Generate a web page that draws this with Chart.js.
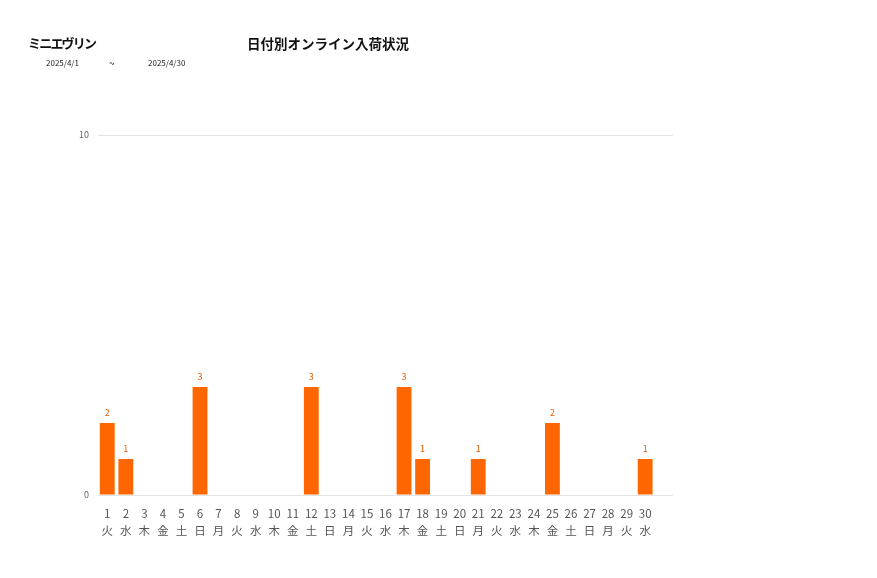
<!DOCTYPE html>
<html lang="ja">
<head>
<meta charset="utf-8">
<script src="https://cdn.jsdelivr.net/npm/chart.js@4"></script>
<style>
  body { margin: 0; background: #fff; font-family: "Noto Sans CJK JP", "Noto Sans", sans-serif; }
  #wrap { position: relative; width: 877px; height: 578px; }
  #chart { position: absolute; left: 0; top: 0; }
  .txt { position: absolute; white-space: nowrap; color: #111; }
  .brand { left: 28px; top: 33px; font-size: 13px; font-weight: bold; letter-spacing: -1.8px; }
  .title { left: 247px; top: 33px; font-size: 13.5px; font-weight: bold; }
  .date { top: 57px; font-size: 8px; color: #222; }
</style>
</head>
<body>
<div id="wrap">
  <canvas id="chart" width="877" height="578"></canvas>
  <div class="txt brand">ミニエヴリン</div>
  <div class="txt title">日付別オンライン入荷状況</div>
  <div class="txt date" style="left:46px">2025/4/1</div>
  <div class="txt date" style="left:109px;font-size:10px;top:55px">~</div>
  <div class="txt date" style="left:148px">2025/4/30</div>
</div>
<script>
const days = ['1','2','3','4','5','6','7','8','9','10','11','12','13','14','15',
              '16','17','18','19','20','21','22','23','24','25','26','27','28','29','30'];
const weekdays = ['火','水','木','金','土','日','月','火','水','木','金','土','日','月','火',
                  '水','木','金','土','日','月','火','水','木','金','土','日','月','火','水'];
const arrivals = [2,1,0,0,0,3,0,0,0,0,0,3,0,0,0,0,3,1,0,0,1,0,0,0,2,0,0,0,0,1];
const yTicks = [0, 10];

// value labels over the bars (skip zeros)
const barLabels = {
    id: 'barLabels',
    afterDatasetsDraw(chart) {
        const ctx = chart.ctx;
        const meta = chart.getDatasetMeta(0);
        ctx.save();
        ctx.font = '9px "Noto Sans CJK JP", sans-serif';
        ctx.fillStyle = '#e8600a';
        ctx.textAlign = 'center';
        ctx.textBaseline = 'bottom';
        meta.data.forEach((bar, i) => {
            if (!arrivals[i]) return;
            ctx.fillText(arrivals[i], bar.x, bar.y - 6);
        });
        ctx.restore();
    }
};

// one blank slot at the end, the grid runs a little past the last day
const labels = days.map((d, i) => [d, weekdays[i]]).concat(['']);

new Chart(document.getElementById('chart'), {
    type: 'bar',
    data: {
        labels: labels,
        datasets: [{
            data: arrivals,
            backgroundColor: '#ff6600',
            borderWidth: 0,
            categoryPercentage: 1,
            barPercentage: 0.8
        }]
    },
    options: {
        responsive: false,
        animation: false,
        layout: { padding: { left: 0, right: 204, top: 135, bottom: 30 } },
        plugins: { legend: { display: false }, tooltip: { enabled: false } },
        scales: {
            x: {
                grid: { display: false },
                border: { display: false },
                ticks: {
                    color: '#555',
                    font: { size: 11.5, family: '"Noto Sans CJK JP", sans-serif', lineHeight: 1.5 },
                    maxRotation: 0,
                    autoSkip: false,
                    padding: 2
                },
                afterFit: s => { s.height = 53; }
            },
            y: {
                min: 0,
                max: 10,
                afterBuildTicks: s => { s.ticks = yTicks.map(v => ({ value: v })); },
                grid: { color: '#e3e3e3', drawTicks: false },
                border: { display: false },
                ticks: {
                    color: '#666',
                    font: { size: 9, family: '"Noto Sans CJK JP", sans-serif' },
                    padding: 9
                },
                afterFit: s => { s.width = 98; }
            }
        }
    },
    plugins: [barLabels]
});
</script>
</body>
</html>
